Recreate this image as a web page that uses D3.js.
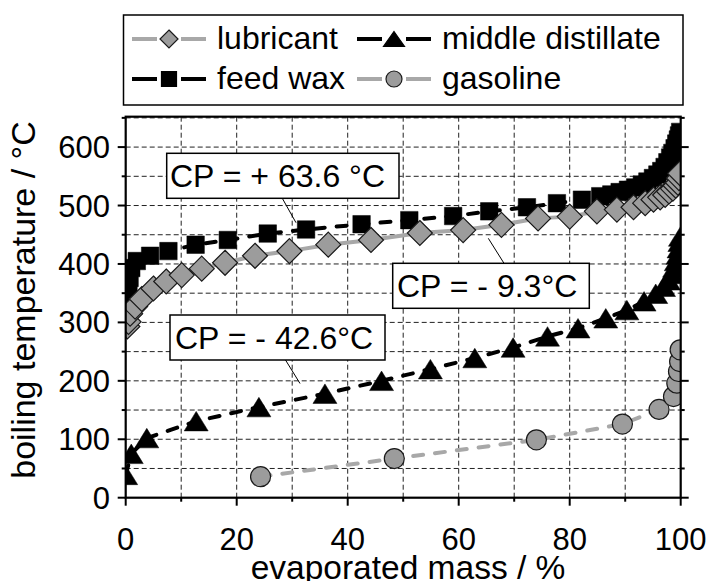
<!DOCTYPE html>
<html><head><meta charset="utf-8">
<script src="https://cdn.jsdelivr.net/npm/d3@7"></script>
<style>body{margin:0;background:#fff}svg{display:block;font-family:"Liberation Sans",Arial,Helvetica,sans-serif}</style>
</head><body>
<svg id="c" width="710" height="581"></svg>
<script>
// ---- data ----
const feedWax = [[0.2,305],[0.3,322],[0.4,340],[0.5,358],[0.7,376],[1.0,393],[2,405],[4.4,414],[7.7,422],[12.6,433],[18.4,441],[25.6,452],[32.5,459],[42.5,468],[51.1,475],[59,482],[65.5,490],[72.3,497],[77.7,504],[82.2,510],[85.5,516],[87.5,519],[89,523],[90.5,527],[91.8,531],[93,536],[94,541],[95,547],[95.8,553],[96.5,559],[97.1,566],[97.6,574],[98.1,582],[98.5,590],[98.9,598],[99.2,606],[99.5,613],[99.7,620],[99.9,626]];
const lubricant = [[0.3,293],[0.5,301],[0.8,315],[1.7,327],[2.9,340],[5,358],[7.3,370],[10.1,381],[13.7,392],[17.9,402],[23.3,414],[29.5,422],[36.5,433],[44.2,441],[53,453],[60.8,458],[67.7,467],[74.3,478],[80,481],[84.9,490],[88.5,493],[91.5,497],[93.6,504],[95.1,510],[96.3,514],[97.2,518],[97.9,524],[98.6,529],[99.1,534],[99.5,539],[99.7,547],[99.9,555]];
const middleDistillate = [[0,39],[1,75],[3.8,102],[12.7,131],[24,155],[35.9,178],[46.1,200],[54.9,220],[62.9,239],[69.8,257],[76,276],[81.5,290],[86.5,307],[90.3,321],[93.4,336],[95.5,349],[96.9,361],[97.8,372],[98.4,383],[98.9,394],[99.2,405],[99.5,416],[99.7,427],[99.85,438],[99.95,447]];
const gasoline = [[24.3,36],[48.4,67],[74,99],[89.5,126],[96.1,151],[98.7,173],[99.3,196],[99.6,216],[99.8,233],[99.9,253]];
const xTicks = [0,20,40,60,80,100];
const yTicks = [0,100,200,300,400,500,600];
const legendLabels = ["lubricant","middle distillate","feed wax","gasoline"];
const cpLabels = ["CP = + 63.6 °C","CP = - 9.3°C","CP = - 42.6°C"];

// ---- layout ----
const svg = d3.select("#c");
const L = 125.7, R = 680.7, T = 116.7, B = 497.7;
const x = d3.scaleLinear().domain([0,100]).range([L,R]);
const y = d3.scaleLinear().domain([0,652]).range([B,T]);
const gray = "#a8a8a8", mfill = "#9c9c9c", mstroke = "#1a1a1a";

svg.append("defs").append("clipPath").attr("id","clip")
  .append("rect").attr("x",L).attr("y",T).attr("width",R-L).attr("height",B-T);

// grid
const grid = svg.append("g").attr("stroke","#222").attr("stroke-width",1).attr("stroke-dasharray","5,3");
d3.range(10,100,10).forEach(v=>grid.append("line").attr("x1",x(v)).attr("x2",x(v)).attr("y1",T).attr("y2",B));
d3.range(50,651,50).forEach(v=>grid.append("line").attr("y1",y(v)).attr("y2",y(v)).attr("x1",L).attr("x2",R));

// marker shapes
function diamond(s){return `M0,${-s}L${s},0L0,${s}L${-s},0Z`;}
function square(s){return `M${-s/2},${-s/2}h${s}v${s}h${-s}Z`;}
function tri(w,h){return `M0,${-h/2}L${w/2},${h/2}L${-w/2},${h/2}Z`;}
const line = d3.line().x(d=>x(d[0])).y(d=>y(d[1]));

const plot = svg.append("g").attr("clip-path","url(#clip)");
function series(data, lineStyle, marker){
  plot.append("path").datum(data).attr("d",line).attr("fill","none")
    .attr("stroke",lineStyle.color).attr("stroke-width",4)
    .attr("stroke-dasharray",lineStyle.dash||null).attr("stroke-linecap",lineStyle.cap||"butt");
  const g = plot.append("g");
  data.forEach(d=>{
    if(marker.type==="circle"){
      g.append("circle").attr("cx",x(d[0])).attr("cy",y(d[1])).attr("r",marker.r)
        .attr("fill",marker.fill).attr("stroke",marker.stroke).attr("stroke-width",1.2);
    } else {
      g.append("path").attr("d",marker.path).attr("transform",`translate(${x(d[0])},${y(d[1])})`)
        .attr("fill",marker.fill).attr("stroke",marker.stroke).attr("stroke-width",marker.sw||1.2);
    }
  });
}
series(feedWax,{color:"#000",dash:"10,12",cap:"round"},{path:square(17.5),fill:"#000",stroke:"#000",sw:0.5});
series(lubricant,{color:gray},{path:diamond(12.5),fill:mfill,stroke:mstroke});
series(middleDistillate,{color:"#000",dash:"10,12",cap:"round"},{path:tri(24,19.5),fill:"#000",stroke:"#000",sw:0.5});
series(gasoline,{color:gray,dash:"10,12",cap:"round"},{type:"circle",r:10,fill:mfill,stroke:mstroke});

// frame + ticks
const ax = svg.append("g").attr("stroke","#000");
ax.append("rect").attr("x",L).attr("y",T).attr("width",R-L).attr("height",B-T).attr("fill","none").attr("stroke-width",2.2);
d3.range(0,101,10).forEach(v=>{
  const len = v%20===0?8:4;
  ax.append("line").attr("x1",x(v)).attr("x2",x(v)).attr("y1",B).attr("y2",B+len).attr("stroke-width",2);
});
d3.range(0,651,50).forEach(v=>{
  const len = v%100===0?8:4;
  ax.append("line").attr("y1",y(v)).attr("y2",y(v)).attr("x1",L).attr("x2",L-len).attr("stroke-width",2);
  ax.append("line").attr("y1",y(v)).attr("y2",y(v)).attr("x1",R).attr("x2",R+len).attr("stroke-width",2);
});
svg.append("g").selectAll("text").data(xTicks).join("text")
  .attr("x",d=>x(d)).attr("y",550).attr("text-anchor","middle").attr("font-size",31).text(d=>d);
svg.append("g").selectAll("text").data(yTicks).join("text")
  .attr("x",110).attr("y",d=>y(d)+11).attr("text-anchor","end").attr("font-size",31).text(d=>d);

svg.append("text").attr("x",408).attr("y",579).attr("text-anchor","middle").attr("font-size",33.5).text("evaporated mass / %");
svg.append("text").attr("transform","translate(35,300) rotate(-90)").attr("text-anchor","middle").attr("font-size",34).text("boiling temperature / °C");

// annotations
const ann = [
  {box:[166.7,153.3,399,198.3], tx:170, ty:187, ln:[282.3,198.3,296,222.7]},
  {box:[392.7,263.3,589.3,308.3], tx:397, ty:297, ln:[488.3,238.3,504,263.3]},
  {box:[170,315,385,360], tx:175, ty:348.5, ln:[285.5,360,300,383.5]}
];
ann.forEach((a,i)=>{
  svg.append("line").attr("x1",a.ln[0]).attr("y1",a.ln[1]).attr("x2",a.ln[2]).attr("y2",a.ln[3]).attr("stroke","#000").attr("stroke-width",1);
  svg.append("rect").attr("x",a.box[0]).attr("y",a.box[1]).attr("width",a.box[2]-a.box[0]).attr("height",a.box[3]-a.box[1])
    .attr("fill","#fff").attr("stroke","#000").attr("stroke-width",1.5);
  svg.append("text").attr("x",a.tx).attr("y",a.ty).attr("font-size",32).text(cpLabels[i]);
});

// legend
const lg = svg.append("g");
lg.append("rect").attr("x",123.5).attr("y",15).attr("width",559.5).attr("height",90).attr("fill","#fff").attr("stroke","#000").attr("stroke-width",1.5);
const items = [
  {lx:132, ly:39, color:gray, m:{path:diamond(9),fill:mfill,stroke:mstroke}},
  {lx:357, ly:39, color:"#000", m:{path:tri(21,15),fill:"#000",stroke:"#000"}},
  {lx:132, ly:79, color:"#000", m:{path:square(15),fill:"#000",stroke:"#000"}},
  {lx:357, ly:79, color:gray, m:{circle:8,fill:mfill,stroke:mstroke}}
];
items.forEach((it,i)=>{
  lg.append("line").attr("x1",it.lx).attr("x2",it.lx+74).attr("y1",it.ly).attr("y2",it.ly).attr("stroke",it.color).attr("stroke-width",4);
  const cx = it.lx+37;
  lg.append("rect").attr("x",cx-12).attr("y",it.ly-3).attr("width",24).attr("height",6).attr("fill","#fff");
  if(it.m.circle){
    lg.append("circle").attr("cx",cx).attr("cy",it.ly).attr("r",it.m.circle).attr("fill",it.m.fill).attr("stroke",it.m.stroke).attr("stroke-width",1.2);
  } else {
    lg.append("path").attr("d",it.m.path).attr("transform",`translate(${cx},${it.ly})`).attr("fill",it.m.fill).attr("stroke",it.m.stroke).attr("stroke-width",1.2);
  }
  lg.append("text").attr("x",it.lx+85).attr("y",it.ly+10).attr("font-size",32).text(legendLabels[i]);
});
</script>
</body></html>
